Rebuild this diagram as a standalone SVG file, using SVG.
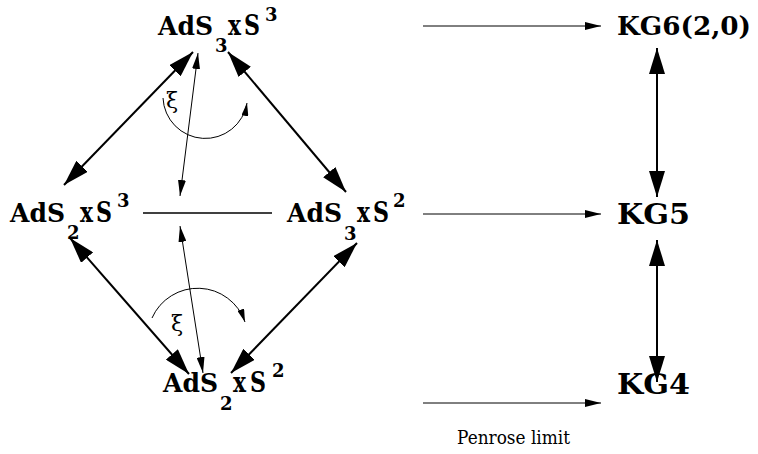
<svg xmlns="http://www.w3.org/2000/svg" width="758" height="454" viewBox="0 0 758 454">
<defs>
<marker id="big" viewBox="0 0 26 16" refX="26" refY="8" markerWidth="26" markerHeight="16" markerUnits="userSpaceOnUse" orient="auto-start-reverse"><path d="M0,0 L26,8 L0,16 z" fill="#000"/></marker>
<marker id="thin" viewBox="0 0 16 8" refX="16" refY="4" markerWidth="16" markerHeight="8" markerUnits="userSpaceOnUse" orient="auto-start-reverse"><path d="M0,0 L16,4 L0,8 z" fill="#000"/></marker>
<marker id="arc" viewBox="0 0 13 7" refX="13" refY="3.5" markerWidth="13" markerHeight="7" markerUnits="userSpaceOnUse" orient="auto"><path d="M0,0 L13,3.5 L0,7 z" fill="#000"/></marker>
</defs>
<style>
text{font-family:'DejaVu Serif','Liberation Serif',serif;fill:#000}
.lbl{font-weight:bold;font-size:28px}
.ads{font-size:26px}
.sm{font-size:18px}
.thick{stroke:#000;stroke-width:2;fill:none;marker-start:url(#big);marker-end:url(#big)}
.thinb{stroke:#000;stroke-width:1;fill:none;marker-start:url(#thin);marker-end:url(#thin)}
.h{stroke:#000;stroke-width:1;fill:none;marker-end:url(#thin)}
.curve{stroke:#000;stroke-width:1;fill:none;marker-end:url(#arc)}
.xi{font-size:22px}
.pl{font-size:18px}
</style>
<g id="ads3s3"><text class="lbl"><tspan class="ads" x="158" y="35" textLength="55" lengthAdjust="spacingAndGlyphs">AdS</tspan><tspan class="sm" x="215" y="52">3</tspan><tspan x="228" y="35" textLength="13" lengthAdjust="spacingAndGlyphs">x</tspan><tspan x="244" y="35" textLength="16" lengthAdjust="spacingAndGlyphs">S</tspan><tspan class="sm" x="265" y="21">3</tspan></text></g>
<g id="ads2s3"><text class="lbl"><tspan class="ads" x="10" y="222" textLength="55" lengthAdjust="spacingAndGlyphs">AdS</tspan><tspan class="sm" x="67" y="239">2</tspan><tspan x="80" y="222" textLength="13" lengthAdjust="spacingAndGlyphs">x</tspan><tspan x="96" y="222" textLength="16" lengthAdjust="spacingAndGlyphs">S</tspan><tspan class="sm" x="117" y="207">3</tspan></text></g>
<g id="ads3s2"><text class="lbl"><tspan class="ads" x="287" y="222" textLength="55" lengthAdjust="spacingAndGlyphs">AdS</tspan><tspan class="sm" x="344" y="240">3</tspan><tspan x="357" y="222" textLength="13" lengthAdjust="spacingAndGlyphs">x</tspan><tspan x="373" y="222" textLength="16" lengthAdjust="spacingAndGlyphs">S</tspan><tspan class="sm" x="393" y="207">2</tspan></text></g>
<g id="ads2s2"><text class="lbl"><tspan class="ads" x="163" y="392" textLength="55" lengthAdjust="spacingAndGlyphs">AdS</tspan><tspan class="sm" x="220" y="410">2</tspan><tspan x="233" y="392" textLength="13" lengthAdjust="spacingAndGlyphs">x</tspan><tspan x="250" y="392" textLength="16" lengthAdjust="spacingAndGlyphs">S</tspan><tspan class="sm" x="272" y="377">2</tspan></text></g>
<g id="kg6"><text class="lbl" style="font-size:26px" x="617" y="35" textLength="134" lengthAdjust="spacingAndGlyphs">KG6(2,0)</text></g>
<g id="kg5"><text class="lbl" x="617" y="224" textLength="73" lengthAdjust="spacingAndGlyphs">KG5</text></g>
<g id="kg4"><text class="lbl" x="617" y="394" textLength="73" lengthAdjust="spacingAndGlyphs">KG4</text></g>
<g id="connectors">
<line class="thick" x1="193" y1="52" x2="64" y2="185"/>
<line class="thick" x1="228" y1="52" x2="346" y2="192"/>
<line class="thick" x1="70" y1="238" x2="189" y2="374"/>
<line class="thick" x1="357" y1="243" x2="231" y2="373"/>
<line class="thinb" x1="198" y1="53" x2="180" y2="196"/>
<line class="thinb" x1="180" y1="226" x2="203" y2="373"/>
<line x1="143" y1="213" x2="272" y2="213" stroke="#000" stroke-width="1.5"/>
<path class="curve" d="M163,98 A42.3,42.3 0 0 0 247,103"/>
<path class="curve" d="M152,318 A50,50 0 0 1 245,322"/>
<line class="h" x1="423" y1="26" x2="601" y2="26"/>
<line class="h" x1="423" y1="214" x2="601" y2="214"/>
<line class="h" x1="423" y1="403" x2="601" y2="403"/>
<line class="thick" x1="657" y1="48" x2="657" y2="197"/>
<line class="thick" x1="657" y1="240" x2="657" y2="382"/>
</g>
<text class="xi" x="166" y="108">ξ</text>
<text class="xi" x="171" y="331">ξ</text>
<text class="pl" x="457" y="444" textLength="113" lengthAdjust="spacingAndGlyphs">Penrose limit</text>
</svg>
